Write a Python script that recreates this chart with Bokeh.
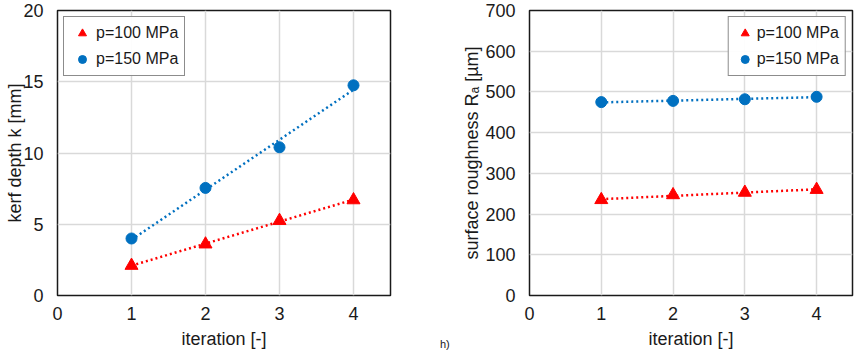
import numpy as np
from bokeh.plotting import figure
from bokeh.layouts import row, column
from bokeh.models import Range1d, FixedTicker, Legend, LegendItem, Div
from bokeh.embed import file_html
from bokeh.resources import INLINE

iterations = [1, 2, 3, 4]
kerf_100 = [2.1, 3.6, 5.25, 6.7]
kerf_150 = [4.0, 7.55, 10.4, 14.75]
rough_100 = [235, 247, 253, 260]
rough_150 = [475, 478, 482, 488]
x_ticks = [0, 1, 2, 3, 4]
series_names = ["p=100 MPa", "p=150 MPa"]

RED = "#ff0000"
BLUE = "#0070c0"
FONT = "Liberation Sans"
TXT = "#1a1a1a"


def make_fig(width, left, right, ymax, ystep, ylabel, ystand):
    p = figure(width=width, height=354, output_backend="svg", toolbar_location=None,
               x_range=Range1d(0, 4.5), y_range=Range1d(0, ymax),
               min_border_left=left, min_border_right=right,
               min_border_top=10, min_border_bottom=59)
    p.outline_line_color = "#1a1a1a"
    p.outline_line_width = 1.5
    p.xaxis.ticker = FixedTicker(ticks=x_ticks)
    p.yaxis.ticker = FixedTicker(ticks=list(range(0, ymax + 1, ystep)))
    for ax in (p.xaxis[0], p.yaxis[0]):
        ax.axis_line_color = None
        ax.major_tick_line_color = None
        ax.minor_tick_line_color = None
        ax.major_tick_out = 0
        ax.major_tick_in = 0
        ax.minor_tick_out = 0
        ax.minor_tick_in = 0
        ax.major_label_text_font = FONT
        ax.major_label_text_font_size = "18px"
        ax.major_label_text_color = TXT
        ax.axis_label_text_font = FONT
        ax.axis_label_text_font_size = "18px"
        ax.axis_label_text_font_style = "normal"
        ax.axis_label_text_color = TXT
    p.xaxis.major_label_standoff = 11
    p.yaxis.major_label_standoff = 14
    p.xaxis.axis_label = "iteration [-]"
    p.xaxis.axis_label_standoff = 6
    p.yaxis.axis_label = ylabel
    p.yaxis.axis_label_standoff = ystand
    p.grid.grid_line_color = "#d9d9d9"
    p.grid.grid_line_width = 1.5
    return p


def add_series(p, y100, y150, loc, glyph_w):
    xs = np.array(iterations, dtype=float)
    for ys, col in ((y100, RED), (y150, BLUE)):
        k, b = np.polyfit(xs, np.array(ys, dtype=float), 1)
        p.line([xs[0], xs[-1]], [k * xs[0] + b, k * xs[-1] + b], line_color=col,
               line_width=2.5, line_dash="2 3")
    r1 = p.scatter(iterations, y100, marker="triangle", size=13, fill_color=RED, line_color=RED)
    r2 = p.scatter(iterations, y150, marker="circle", size=11, fill_color=BLUE, line_color=BLUE)
    leg = Legend(items=[LegendItem(label=series_names[0], renderers=[r1]),
                        LegendItem(label=series_names[1], renderers=[r2])],
                 location=loc)
    leg.border_line_color = "#1a1a1a"
    leg.border_line_width = 1.5
    leg.label_text_font = FONT
    leg.label_text_font_size = "16px"
    leg.label_text_color = TXT
    leg.glyph_width = glyph_w
    leg.label_standoff = 2
    leg.spacing = 6
    leg.padding = 6
    leg.margin = 6
    p.add_layout(leg)


p1 = make_fig(430, 57, 40, 20, 5, "kerf depth k [mm]", -5)
add_series(p1, kerf_100, kerf_150, "top_left", 24)

p2 = make_fig(428, 99, 6, 700, 100, "surface roughness Rₐ [µm]", 0)
add_series(p2, rough_100, rough_150, "top_right", 20)

note = Div(text="h)", width=20, height=14,
           styles={"position": "absolute", "left": "435px", "top": "334px",
                   "font-family": FONT, "font-size": "11px", "line-height": "1",
                   "color": TXT})

layout = column(row(p1, p2, spacing=0), note, spacing=0)
open("out.html", "w").write(file_html(layout, INLINE))
